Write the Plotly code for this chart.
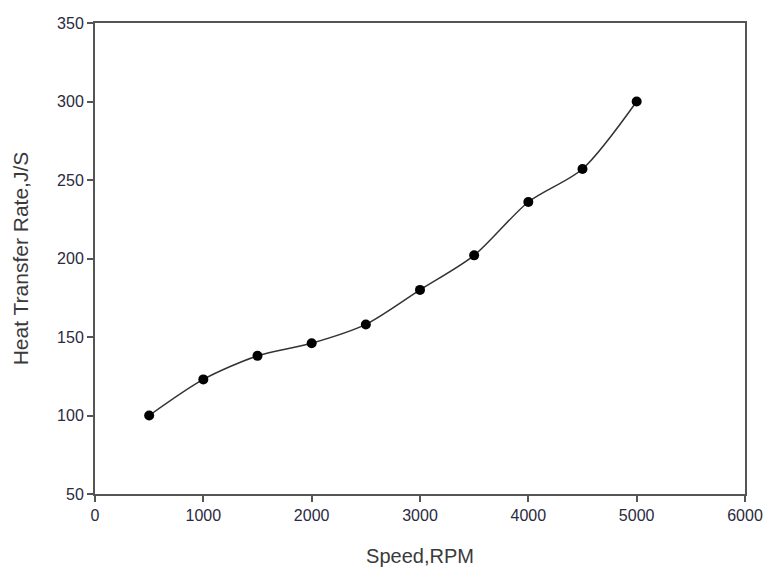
import plotly.graph_objects as go

speed_rpm = [500, 1000, 1500, 2000, 2500, 3000, 3500, 4000, 4500, 5000]
heat_rate = [100, 123, 138, 146, 158, 180, 202, 236, 257, 300]

x_ticks = [0, 1000, 2000, 3000, 4000, 5000, 6000]
y_ticks = [50, 100, 150, 200, 250, 300, 350]

fig = go.Figure()
fig.add_trace(go.Scatter(
    x=speed_rpm, y=heat_rate, mode="lines+markers",
    line=dict(color="#333333", width=1.5, shape="spline", smoothing=0.8),
    marker=dict(color="black", size=10, symbol="circle"),
    showlegend=False,
))

axis_common = dict(
    showgrid=False, zeroline=False, showline=True, linecolor="#555555", linewidth=2,
    mirror=True, ticks="outside", ticklen=6, tickwidth=2, tickcolor="#555555",
    tickfont=dict(family="Liberation Sans, Arial, sans-serif", size=16, color="#2a2a40"),
)

fig.update_layout(
    width=764, height=569,
    margin=dict(l=95, r=19, t=23, b=75),
    paper_bgcolor="white", plot_bgcolor="white",
    font=dict(family="Liberation Sans, Arial, sans-serif", color="#3a3a3a"),
    xaxis=dict(range=[0, 6000], tickvals=x_ticks, automargin=False,
               title=dict(text="Speed,RPM", font=dict(size=20), standoff=26), **axis_common),
    yaxis=dict(range=[50, 350], tickvals=y_ticks, automargin=False,
               title=dict(text="Heat Transfer Rate,J/S", font=dict(size=21), standoff=23), **axis_common),
)

fig.write_html("out.html", config={"displayModeBar": False},
               post_script="document.body.style.margin='0';document.body.style.overflow='hidden';")
